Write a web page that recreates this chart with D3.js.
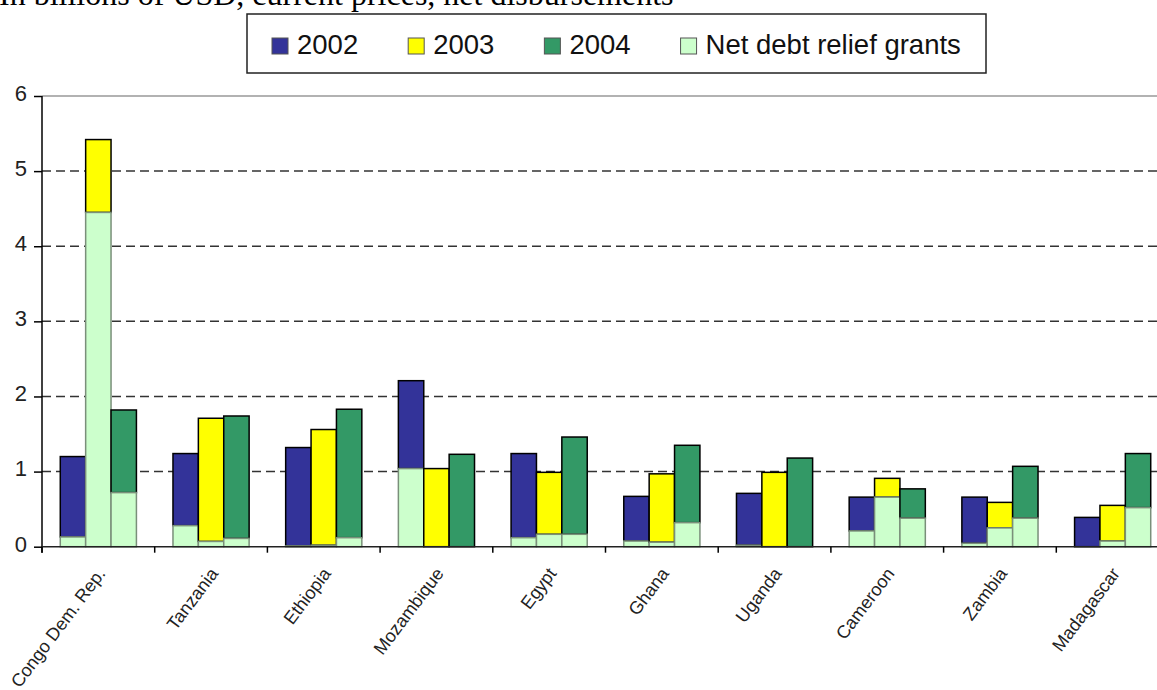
<!DOCTYPE html>
<html>
<head>
    <meta http-equiv="Content-Type" content="text/html;charset=utf-8">
    <title>Net debt relief grants by country, 2002-2004</title>
    <script type="text/javascript" src="https://d3js.org/d3.v7.min.js"></script>
    <style>
        html, body {
            margin: 0;
            padding: 0;
            background: #fff;
        }
        svg { display: block; }
        text {
            font-family: "Liberation Sans", Arial, sans-serif;
            fill: #000;
        }
        text.title {
            font-family: "Liberation Serif", "Times New Roman", serif;
            font-size: 32px;
        }
        text.legendText { font-size: 27.5px; fill: #111; }
        .axis text { font-size: 22px; fill: #222; }
        .xLabel { font-size: 18px; fill: #222; }
        .grid line {
            stroke: #333;
            stroke-width: 1.5px;
            stroke-dasharray: 9, 5;
        }
        .axis path, .axis line {
            fill: none;
            stroke: #000;
            stroke-width: 1.5px;
        }
    </style>
</head>
<body>
<script type="text/javascript">

    // data (billions of USD)
    var countries = ["Congo Dem. Rep.", "Tanzania", "Ethiopia", "Mozambique", "Egypt",
                     "Ghana", "Uganda", "Cameroon", "Zambia", "Madagascar"];
    var years = ["2002", "2003", "2004"];

    // total net ODA per year (top of each bar)
    var total2002 = [1.20, 1.24, 1.32, 2.21, 1.24, 0.67, 0.71, 0.66, 0.66, 0.39];
    var total2003 = [5.42, 1.71, 1.56, 1.04, 0.99, 0.97, 0.99, 0.91, 0.59, 0.55];
    var total2004 = [1.82, 1.74, 1.83, 1.23, 1.46, 1.35, 1.18, 0.77, 1.07, 1.24];

    // net debt relief grants part of each bar
    var relief2002 = [0.13, 0.28, 0.01, 1.04, 0.12, 0.075, 0.02, 0.21, 0.045, 0.00];
    var relief2003 = [4.45, 0.07, 0.02, 0.00, 0.165, 0.06, 0.00, 0.66, 0.25, 0.075];
    var relief2004 = [0.72, 0.11, 0.12, 0.00, 0.165, 0.32, 0.00, 0.38, 0.38, 0.52];

    var yTicks = [0, 1, 2, 3, 4, 5, 6];

    var yearColors = {"2002": "#333399", "2003": "#ffff00", "2004": "#339966"};
    var reliefColor = "#ccffcc";
    var legendLabels = ["2002", "2003", "2004", "Net debt relief grants"];

    var totals = {"2002": total2002, "2003": total2003, "2004": total2004};
    var reliefs = {"2002": relief2002, "2003": relief2003, "2004": relief2004};

    var width = 1157, height = 690;
    var plot = {left: 42, right: 1169, top: 96, bottom: 546.7};

    var svg = d3.select("body").append("svg")
        .attr("width", width).attr("height", height);

    var x = d3.scaleBand()
        .domain(countries)
        .range([plot.left, plot.right]);

    var xInner = d3.scaleBand()
        .domain(years)
        .range([0, x.bandwidth()])
        .paddingOuter(0.72);

    var y = d3.scaleLinear()
        .domain([0, 6])
        .range([plot.bottom, plot.top]);

    // title, cut at the top as in the source
    svg.append("text")
        .attr("class", "title")
        .attr("x", -1)
        .attr("y", 5)
        .text("In billions of USD, current prices, net disbursements");

    // dashed gridlines
    svg.append("g").attr("class", "grid")
        .selectAll("line")
        .data(yTicks.filter(function (d) { return d > 0 && d < 6; }))
        .enter().append("line")
        .attr("x1", plot.left).attr("x2", plot.right)
        .attr("y1", function (d) { return y(d); })
        .attr("y2", function (d) { return y(d); });

    // top border of plot area
    svg.append("line")
        .attr("x1", plot.left).attr("x2", plot.right)
        .attr("y1", y(6)).attr("y2", y(6))
        .style("stroke", "#999").style("stroke-width", 1.5);

    // bars
    var rows = [];
    countries.forEach(function (c, i) {
        years.forEach(function (yr) {
            rows.push({country: c, year: yr, total: totals[yr][i], relief: reliefs[yr][i]});
        });
    });

    var barGroup = svg.append("g").attr("class", "bars");
    var bar = barGroup.selectAll(".bar")
        .data(rows).enter()
        .append("g")
        .attr("class", "bar")
        .attr("transform", function (d) { return "translate(" + (x(d.country) + xInner(d.year)) + ",0)"; });

    bar.filter(function (d) { return d.total - d.relief > 0.001; })
        .append("rect")
        .attr("x", 0)
        .attr("width", xInner.bandwidth())
        .attr("y", function (d) { return y(d.total); })
        .attr("height", function (d) { return y(d.relief) - y(d.total); })
        .style("fill", function (d) { return yearColors[d.year]; })
        .style("stroke", "#000")
        .style("stroke-width", 1.5);

    bar.filter(function (d) { return d.relief > 0.001; })
        .append("rect")
        .attr("x", 0)
        .attr("width", xInner.bandwidth())
        .attr("y", function (d) { return y(d.relief); })
        .attr("height", function (d) { return y(0) - y(d.relief); })
        .style("fill", reliefColor)
        .style("stroke", "#7a8f7a")
        .style("stroke-width", 1.5);

    // y axis
    var yAxis = d3.axisLeft(y).tickValues(yTicks).tickSize(8).tickPadding(7).tickFormat(d3.format("d"));
    var yG = svg.append("g")
        .attr("class", "axis y")
        .attr("transform", "translate(" + plot.left + ",0)")
        .call(yAxis);
    yG.select(".domain").remove();
    yG.append("line")
        .attr("x1", 0).attr("x2", 0)
        .attr("y1", y(6)).attr("y2", y(0) + 6)
        .style("stroke", "#000").style("stroke-width", 1.5);
    yG.selectAll(".tick text").attr("dy", "0.2em");

    // x axis: ticks at category boundaries
    svg.append("line")
        .attr("x1", plot.left).attr("x2", plot.right)
        .attr("y1", y(0)).attr("y2", y(0))
        .style("stroke", "#222").style("stroke-width", 1.5);

    svg.append("g").attr("class", "xTicks")
        .selectAll("line")
        .data(countries)
        .enter().append("line")
        .attr("x1", function (d) { return x(d); })
        .attr("x2", function (d) { return x(d); })
        .attr("y1", y(0)).attr("y2", y(0) + 6)
        .style("stroke", "#000").style("stroke-width", 1.5);

    svg.append("g").attr("class", "xLabels")
        .selectAll("text")
        .data(countries)
        .enter().append("text")
        .attr("class", "xLabel")
        .attr("text-anchor", "end")
        .attr("transform", function (d) {
            return "translate(" + (x(d) + x.bandwidth() / 2 + 8) + "," + (y(0) + 27) + ") rotate(-53)";
        })
        .text(function (d) { return d; });

    // legend
    var legend = svg.append("g").attr("class", "legendWrap");
    legend.append("rect")
        .attr("x", 247).attr("y", 14)
        .attr("width", 739).attr("height", 59)
        .style("fill", "#fff")
        .style("stroke", "#222")
        .style("stroke-width", 1.5);

    var lx = 272;
    legendLabels.forEach(function (lab, i) {
        var g = legend.append("g").attr("transform", "translate(" + lx + ",0)");
        g.append("rect")
            .attr("x", 0).attr("y", 38)
            .attr("width", 16).attr("height", 16)
            .style("fill", i < 3 ? yearColors[lab] : reliefColor)
            .style("stroke", "#555")
            .style("stroke-width", 1);
        var t = g.append("text")
            .attr("class", "legendText")
            .attr("x", 25).attr("y", 54)
            .text(lab);
        lx += 25 + t.node().getComputedTextLength() + 50;
    });

</script>
</body>
</html>
